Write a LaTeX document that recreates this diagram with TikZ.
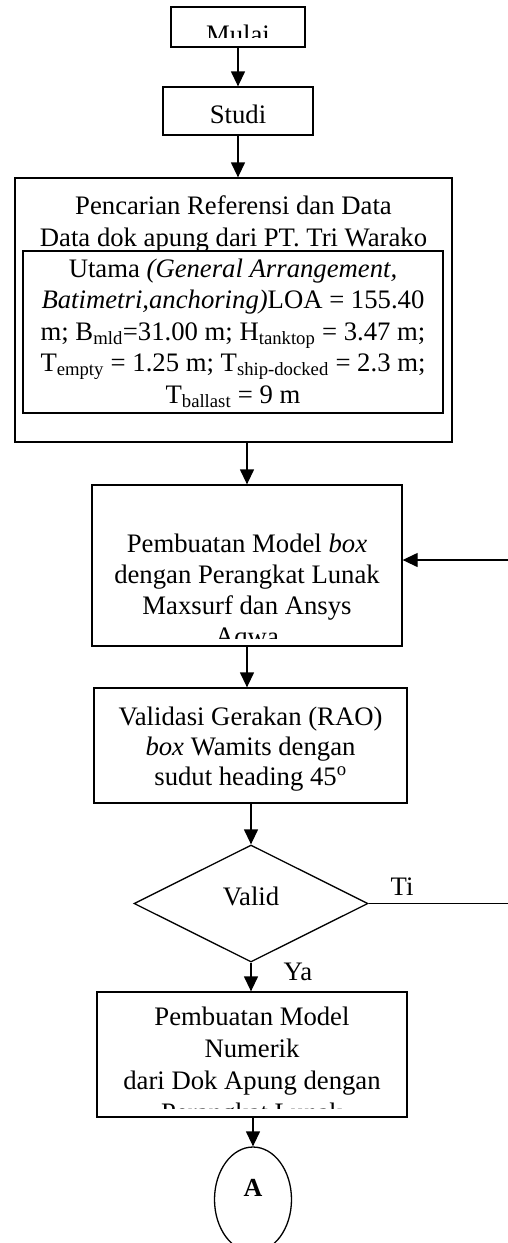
\documentclass[tikz,border=0pt]{standalone}
\usepackage{fontspec}
\setmainfont{Liberation Serif}
\usetikzlibrary{arrows.meta,shapes.geometric}
\newcommand\stacklines[2]{\vtop{\baselineskip=#1\relax\lineskiplimit=-100pt\halign{\hfil##\hfil\cr#2\crcr}}}
\begin{document}
\begin{tikzpicture}[x=1pt,y=-1pt, line width=1.3pt,
  box/.style={draw, rectangle, inner sep=0pt},
  txt/.style={font=\fontsize{26.7}{31}\selectfont, inner sep=0pt, anchor=base},
  arr/.style={-{Triangle[length=15pt,width=14pt]}}]
\useasboundingbox (0,0) rectangle (508,1243);

% Mulai
\node[box, minimum width=134pt, minimum height=40pt] (mulai) at (238,27) {};
\begin{scope}
\clip (mulai.north west) rectangle ([yshift=10pt]mulai.south east);
\node[txt] (mulaitxt) at (238,43) {Mulai};
\end{scope}

% Studi
\node[box, minimum width=150pt, minimum height=48pt] (studi) at (238,111) {};
\node[txt] (studitxt) at (238,123) {Studi};

% Referensi
\node[box, minimum width=437pt, minimum height=264pt] (ref) at (233.5,310) {};
\node[txt] (reftxt) at (233.5,214) {\stacklines{32pt}{Pencarian Referensi dan Data\cr Data dok apung dari PT. Tri Warako}};
\node[box, line width=2.8pt, minimum width=420pt, minimum height=162pt] (inner) at (233,332) {};
\node[txt] (innertxt) at (233,277) {\stacklines{31.5pt}{Utama \textit{(General Arrangement,}\cr \textit{Batimetri,anchoring)}LOA = 155.40\cr m; B\textsubscript{mld}=31.00 m; H\textsubscript{tanktop} = 3.47 m;\cr T\textsubscript{empty} = 1.25 m; T\textsubscript{ship-docked} = 2.3 m;\cr T\textsubscript{ballast} = 9 m}};

% Model box
\node[box, minimum width=310pt, minimum height=161pt] (model) at (247,565.5) {};
\begin{scope}
\clip (model.north west) rectangle ([yshift=8pt]model.south east);
\node[txt] (modeltxt) at (247,552) {\stacklines{31pt}{Pembuatan Model \textit{box}\cr dengan Perangkat Lunak\cr Maxsurf dan Ansys\cr Aqwa}};
\end{scope}

% Validasi
\node[box, minimum width=313pt, minimum height=115pt] (vbox) at (250.5,745.5) {};
\node[txt] (vboxtxt) at (250.5,725) {\stacklines{30pt}{Validasi Gerakan (RAO)\cr \textit{box} Wamits dengan\cr sudut heading 45\textsuperscript{o}}};

% Decision
\node[draw, diamond, minimum width=234pt, minimum height=117pt, inner sep=0pt] (dec) at (251,903.5) {};
\node[txt] (dectxt) at (251,905) {Valid};
\node[txt, anchor=base west] (ti) at (390,895) {Ti};
\node[txt, anchor=base west] (ya) at (283,980) {Ya};

% Numerik
\node[box, minimum width=310pt, minimum height=125pt] (num) at (252,1054.5) {};
\begin{scope}
\clip (num.north west) rectangle ([yshift=9pt]num.south east);
\node[txt] (numtxt) at (252,1025) {\stacklines{32pt}{Pembuatan Model\cr Numerik\cr dari Dok Apung dengan\cr Perangkat Lunak}};
\end{scope}

% Connector A
\node[draw, ellipse, minimum width=77pt, minimum height=105pt, inner sep=0pt] (A) at (253,1199.5) {};
\node[txt, font=\fontsize{26}{30}\selectfont\bfseries] (Atxt) at (253,1196) {A};

% Arrows
\draw[arr] (mulai.south) -- (studi.north);
\draw[arr] (studi.south) -- (studi.south |- ref.north);
\draw[arr] (ref.south -| model.north) -- (model.north);
\draw[arr] (model.south) -- (model.south |- vbox.north);
\draw[arr] (vbox.south -| dec.north) -- (dec.north);
\draw[arr] (dec.south) -- (dec.south |- num.north);
\draw[arr] (num.south -| A.north) -- (A.north);

\coordinate (fb1) at (515,903.5);
\coordinate (fb2) at (515,560);
\draw[arr] (dec.east) -- (fb1) -- (fb2) -- (fb2 -| model.east);
\end{tikzpicture}
\end{document}
